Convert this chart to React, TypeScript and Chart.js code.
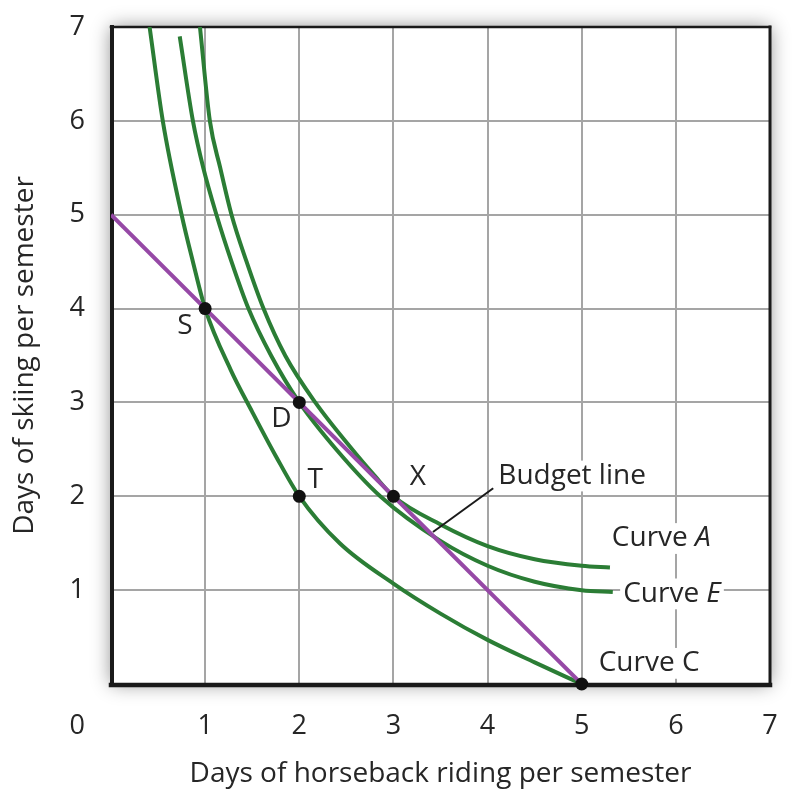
import React, { useEffect, useRef } from 'react';
import { Chart, registerables } from 'chart.js';

Chart.register(...registerables);

// ---------- data ----------
const X_MIN = 0;
const X_MAX = 7;
const Y_MIN = 0;
const Y_MAX = 7;

const xTitle = 'Days of horseback riding per semester';
const yTitle = 'Days of skiing per semester';

const budgetX = [0, 5];
const budgetY = [5, 0];

const curveCX = [0.41, 0.55, 0.75, 0.87, 1.0, 1.27, 1.5, 1.75, 2.0, 2.43, 3.0, 3.5, 4.0, 4.5, 5.0];
const curveCY = [7.0, 6.0, 5.0, 4.5, 4.0, 3.35, 2.9, 2.43, 2.0, 1.5, 1.07, 0.75, 0.47, 0.23, 0.0];

const curveEX = [0.73, 0.87, 0.98, 1.12, 1.28, 1.46, 1.7, 2.0, 2.4, 2.86, 3.49, 4.0, 4.5, 5.0, 5.33];
const curveEY = [6.9, 6.0, 5.5, 5.0, 4.5, 4.0, 3.5, 3.0, 2.49, 2.0, 1.53, 1.26, 1.09, 1.0, 0.98];

const curveAX = [0.945, 1.05, 1.16, 1.28, 1.44, 1.62, 1.85, 2.17, 2.57, 2.8, 3.0, 3.5, 4.0, 4.5, 5.0, 5.3];
const curveAY = [7.0, 6.0, 5.5, 5.0, 4.5, 4.0, 3.5, 3.0, 2.49, 2.22, 2.0, 1.7, 1.47, 1.33, 1.26, 1.24];

const pointX = [1, 2, 2, 3, 5];
const pointY = [4, 3, 2, 2, 0];

const pointLabelText = ['S', 'D', 'T', 'X'];
const pointLabelX = [0.786, 1.81, 2.17, 3.26];
const pointLabelY = [3.81, 2.82, 2.17, 2.21];

const curveLabelLetter = ['A', 'E', 'C'];
const curveLabelItalic = [true, true, false];
const curveLabelX = [5.32, 5.44, 5.18];
const curveLabelY = [1.55, 0.96, 0.22];

const budgetLabel = 'Budget line';
const budgetLabelX = 4.114;
const budgetLabelY = 2.216;
const leaderX = [4.06, 3.42];
const leaderY = [2.085, 1.62];

// ---------- style ----------
const FONT = "'Open Sans', 'Noto Sans', sans-serif";
const TEXT = '#262626';
const GREEN = '#2b7d35';
const PURPLE = '#9649a6';
const GRID = '#a5a5a5';
const TICK_SIZE = 27;
const Y_TICK_PAD = 26;
const X_TICK_PAD = 26;
const LABEL_SIZE = 28;

const zip = (xs: number[], ys: number[]) => xs.map((x, i) => ({ x, y: ys[i] }));

const framePlugin = {
  id: 'frame',
  beforeDraw(chart: any) {
    const { ctx, chartArea: a } = chart;
    ctx.save();
    ctx.shadowColor = 'rgba(0,0,0,0.45)';
    ctx.shadowBlur = 18;
    ctx.fillStyle = '#ffffff';
    ctx.fillRect(a.left, a.top, a.right - a.left, a.bottom - a.top);
    ctx.restore();
  },
  beforeDatasetsDraw(chart: any) {
    const { ctx, chartArea: a } = chart;
    ctx.save();
    ctx.strokeStyle = '#1a1a1a';
    ctx.lineCap = 'square';
    const side = (w: number, x1: number, y1: number, x2: number, y2: number) => {
      ctx.lineWidth = w;
      ctx.beginPath();
      ctx.moveTo(x1, y1);
      ctx.lineTo(x2, y2);
      ctx.stroke();
    };
    side(2.5, a.left, a.top, a.right, a.top);
    side(3, a.right, a.top, a.right, a.bottom);
    side(4, a.left + 1, a.top, a.left + 1, a.bottom);
    side(4.5, a.left, a.bottom + 1, a.right, a.bottom + 1);
    ctx.restore();
  },
};

const annotationPlugin = {
  id: 'annotations',
  afterDatasetsDraw(chart: any) {
    const { ctx, chartArea: a } = chart;
    const xs = chart.scales.x;
    const ys = chart.scales.y;
    ctx.save();
    ctx.fillStyle = TEXT;
    ctx.textBaseline = 'middle';

    ctx.font = `${LABEL_SIZE}px ${FONT}`;
    ctx.textAlign = 'center';
    pointLabelText.forEach((t, i) => {
      ctx.fillText(t, xs.getPixelForValue(pointLabelX[i]), ys.getPixelForValue(pointLabelY[i]));
    });

    ctx.strokeStyle = '#1a1a1a';
    ctx.lineWidth = 2;
    ctx.beginPath();
    ctx.moveTo(xs.getPixelForValue(leaderX[0]), ys.getPixelForValue(leaderY[0]));
    ctx.lineTo(xs.getPixelForValue(leaderX[1]), ys.getPixelForValue(leaderY[1]));
    ctx.stroke();

    ctx.textAlign = 'left';
    const bgText = (parts: { t: string; italic: boolean }[], px: number, py: number) => {
      let w = 0;
      parts.forEach((p) => {
        ctx.font = `${p.italic ? 'italic ' : ''}${LABEL_SIZE}px ${FONT}`;
        w += ctx.measureText(p.t).width;
      });
      ctx.fillStyle = '#ffffff';
      ctx.fillRect(px - 3, py - LABEL_SIZE * 0.55, w + 6, LABEL_SIZE * 1.1);
      ctx.fillStyle = TEXT;
      let cx = px;
      parts.forEach((p) => {
        ctx.font = `${p.italic ? 'italic ' : ''}${LABEL_SIZE}px ${FONT}`;
        ctx.fillText(p.t, cx, py);
        cx += ctx.measureText(p.t).width;
      });
    };
    bgText([{ t: budgetLabel, italic: false }], xs.getPixelForValue(budgetLabelX), ys.getPixelForValue(budgetLabelY));
    curveLabelLetter.forEach((l, i) => {
      bgText(
        [
          { t: 'Curve ', italic: false },
          { t: l, italic: curveLabelItalic[i] },
        ],
        xs.getPixelForValue(curveLabelX[i]),
        ys.getPixelForValue(curveLabelY[i])
      );
    });

    ctx.font = `${TICK_SIZE}px ${FONT}`;
    ctx.fillStyle = TEXT;
    ctx.textAlign = 'right';
    ctx.fillText('0', a.left - Y_TICK_PAD, a.bottom + X_TICK_PAD + (TICK_SIZE * 1.2) / 2);
    ctx.restore();
  },
};

export default function App() {
  const ref = useRef<HTMLCanvasElement | null>(null);

  useEffect(() => {
    document.body.style.margin = '0';
    const canvas = ref.current;
    if (!canvas) return;
    const lineDs = (xs: number[], ys: number[], color: string, mono: boolean) => ({
      data: zip(xs, ys),
      showLine: true,
      borderColor: color,
      backgroundColor: color,
      borderWidth: 4,
      pointRadius: 0,
      pointHoverRadius: 0,
      fill: false,
      cubicInterpolationMode: mono ? 'monotone' : 'default',
      tension: mono ? 0.4 : 0,
      borderCapStyle: 'butt',
    });
    const chart = new Chart(canvas, {
      type: 'scatter',
      data: {
        datasets: [
          {
            data: zip(pointX, pointY),
            showLine: false,
            pointRadius: 6.5,
            pointBackgroundColor: '#111111',
            pointBorderWidth: 0,
            clip: false,
          } as any,
          lineDs(budgetX, budgetY, PURPLE, false) as any,
          lineDs(curveAX, curveAY, GREEN, true) as any,
          lineDs(curveEX, curveEY, GREEN, true) as any,
          lineDs(curveCX, curveCY, GREEN, true) as any,
        ],
      },
      options: {
        animation: false,
        responsive: true,
        maintainAspectRatio: false,
        layout: { padding: { top: 27, right: 24, left: 0, bottom: 0 } },
        plugins: { legend: { display: false }, tooltip: { enabled: false } },
        events: [],
        scales: {
          x: {
            type: 'linear',
            min: X_MIN,
            max: X_MAX,
            afterFit: (s: any) => {
              s.height = 109;
              s.paddingLeft = 0;
              s.paddingRight = 0;
            },
            border: { display: false },
            grid: { color: GRID, lineWidth: 2, drawTicks: false },
            ticks: {
              stepSize: 1,
              autoSkip: false,
              maxRotation: 0,
              padding: X_TICK_PAD,
              color: TEXT,
              font: { family: FONT, size: TICK_SIZE },
              callback: (v: any) => (v === 0 ? '' : String(v)),
            },
            title: {
              display: true,
              text: xTitle,
              color: TEXT,
              font: { family: FONT, size: 28 },
              padding: { top: 0, bottom: 2 },
            },
          },
          y: {
            type: 'linear',
            min: Y_MIN,
            max: Y_MAX,
            afterFit: (s: any) => {
              s.width = 111;
              s.paddingTop = 0;
              s.paddingBottom = 0;
            },
            border: { display: false },
            grid: { color: GRID, lineWidth: 2, drawTicks: false },
            ticks: {
              stepSize: 1,
              autoSkip: false,
              padding: Y_TICK_PAD,
              color: TEXT,
              font: { family: FONT, size: TICK_SIZE },
              callback: (v: any) => (v === 0 ? '' : String(v)),
            },
            title: {
              display: true,
              text: yTitle,
              color: TEXT,
              font: { family: FONT, size: 28 },
              padding: { top: 8, bottom: 0 },
            },
          },
        },
      } as any,
      plugins: [framePlugin, annotationPlugin],
    });
    return () => chart.destroy();
  }, []);

  return (
    <div style={{ position: 'relative', width: 794, height: 793 }}>
      <canvas ref={ref} />
    </div>
  );
}
